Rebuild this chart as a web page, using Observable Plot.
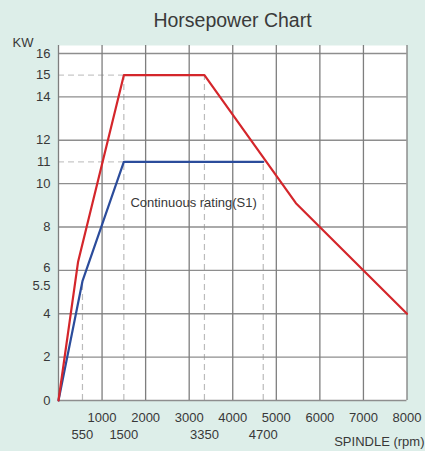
<!DOCTYPE html>
<html>
<head>
<meta charset="utf-8">
<script src="https://cdn.jsdelivr.net/npm/d3@7"></script>
<script src="https://cdn.jsdelivr.net/npm/@observablehq/plot@0.6"></script>
<style>
  html, body { margin: 0; padding: 0; background: #ddeee9; width: 425px; height: 451px; overflow: hidden; }
  #title { height: 36px; line-height: 40px; text-align: center; font-family: "Liberation Sans", Arial, sans-serif; font-size: 19.5px; color: #3a3a3a; padding-left: 40px; box-sizing: border-box; }
  #chart svg { display: block; background: transparent; }
</style>
</head>
<body>
<div id="title">Horsepower Chart</div>
<div id="chart"></div>
<script>
// Peak curve, red
const peakRpm = [0, 450, 1500, 3350, 5450, 8000];
const peakKw  = [0, 6.4, 15, 15, 9.1, 4];
// Continuous rating (S1), blue
const contRpm = [0, 550, 1500, 4700];
const contKw  = [0, 5.5, 11, 11];
// Reference (dashed) markers
const refRpm = [550, 1500, 3350, 4700];
const refKw  = [5.5, 15, 15, 11];
const refHKw = [15, 11];
const refHRpm = [1500, 1500];
// Tick labels
const yTicks = [0, 2, 4, 8, 10, 11, 12, 14, 15, 16];
const yTickSix = [6];
const yTickFiveHalf = [5.5];
const yGrid = [0, 2, 4, 6, 8, 10, 12, 14, 16];
const xTicksMain = [1000, 2000, 3000, 4000, 5000, 6000, 7000, 8000];
const xGrid = [0, 1000, 2000, 3000, 4000, 5000, 6000, 7000, 8000];
const xTicksKey = [550, 1500, 3350, 4700];
// Annotation
const noteRpm = [1650];
const noteKw = [9.1];
const noteText = ["Continuous rating(S1)"];

const peak = peakRpm.map((r, i) => ({rpm: r, kw: peakKw[i]}));
const cont = contRpm.map((r, i) => ({rpm: r, kw: contKw[i]}));
const refs = refRpm.map((r, i) => ({rpm: r, kw: refKw[i]}));
const hrefs = refHKw.map((k, i) => ({kw: k, rpm: refHRpm[i]}));
const notes = noteRpm.map((r, i) => ({rpm: r, kw: noteKw[i], text: noteText[i]}));

const font = "Liberation Sans, Arial, sans-serif";
const txt = "#383838";
const chart = Plot.plot({
  width: 425,
  height: 415,
  marginLeft: 58,
  marginRight: 18.5,
  marginTop: 9,
  marginBottom: 51,
  style: {fontFamily: font, fontSize: "13px", color: txt, background: "transparent"},
  x: {domain: [0, 8000]},
  y: {domain: [0, 16.37]},
  marks: [
    Plot.frame({fill: "white", stroke: "none"}),
    Plot.ruleX(refs, {x: "rpm", y1: 0, y2: "kw", stroke: "#bbbbbb", strokeWidth: 1.2, strokeDasharray: "6,4"}),
    Plot.ruleY(hrefs, {y: "kw", x1: 0, x2: "rpm", stroke: "#c8c8c8", strokeWidth: 1.2, strokeDasharray: "6,4"}),
    Plot.gridY(yGrid, {stroke: "#8e8e8e", strokeOpacity: 1, strokeWidth: 1.3}),
    Plot.gridX(xGrid, {stroke: "#7e7e7e", strokeOpacity: 1, strokeWidth: 1.3}),
    Plot.line(cont, {x: "rpm", y: "kw", stroke: "#2b4c9b", strokeWidth: 2.2}),
    Plot.line(peak, {x: "rpm", y: "kw", stroke: "#d4262b", strokeWidth: 2.2}),
    Plot.text(notes, {x: "rpm", y: "kw", text: "text", textAnchor: "start", fill: txt, fontSize: 13}),
    Plot.axisY(yTicks, {tickSize: 0, tickPadding: 8, label: null, tickFormat: d => String(d), fill: txt, fontSize: 13}),
    Plot.axisY(yTickSix, {tickSize: 0, tickPadding: 8, label: null, tickFormat: d => String(d), fill: txt, fontSize: 13, dy: -3}),
    Plot.axisY(yTickFiveHalf, {tickSize: 0, tickPadding: 8, label: null, tickFormat: d => String(d), fill: txt, fontSize: 13, dy: 5}),
    Plot.axisX(xTicksMain, {tickSize: 0, tickPadding: 12, label: null, tickFormat: d => String(d), fill: txt, fontSize: 13}),
    Plot.axisX(xTicksKey, {tickSize: 0, tickPadding: 29, label: null, tickFormat: d => String(d), fill: txt, fontSize: 13}),
    Plot.text(["KW"], {frameAnchor: "top-left", dx: -46, dy: -3, textAnchor: "start", lineAnchor: "middle", fill: txt, fontSize: 13}),
    Plot.text(["SPINDLE (rpm)"], {frameAnchor: "bottom-right", dx: 17.5, dy: 41, textAnchor: "end", lineAnchor: "middle", fill: txt, fontSize: 13})
  ]
});
document.getElementById("chart").appendChild(chart);
</script>
</body>
</html>
